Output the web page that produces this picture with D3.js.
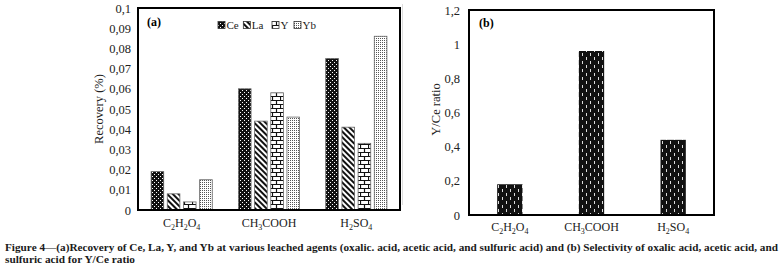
<!DOCTYPE html>
<html>
<head>
<meta charset="utf-8">
<script src="https://cdn.jsdelivr.net/npm/d3@7"></script>
<style>
  body { margin: 0; background: #fff; }
  svg text { font-family: "Liberation Serif", "Times New Roman", serif; }
</style>
</head>
<body>
<svg id="chart" width="783" height="271"></svg>
<script>
// data
const agents = ["C2H2O4", "CH3COOH", "H2SO4"];
const elements = ["Ce", "La", "Y", "Yb"];
const ceValues = [0.019, 0.060, 0.075];
const laValues = [0.008, 0.044, 0.041];
const yValues = [0.004, 0.058, 0.033];
const ybValues = [0.015, 0.046, 0.086];
const ratioValues = [0.18, 0.96, 0.44];
const ticksA = [0, 0.01, 0.02, 0.03, 0.04, 0.05, 0.06, 0.07, 0.08, 0.09, 0.1];
const ticksB = [0, 0.2, 0.4, 0.6, 0.8, 1, 1.2];
// chemical formulas split into [text, isSubscript]
const agentParts = {
  "C2H2O4": [["C", 0], ["2", 1], ["H", 0], ["2", 1], ["O", 0], ["4", 1]],
  "CH3COOH": [["CH", 0], ["3", 1], ["COOH", 0]],
  "H2SO4": [["H", 0], ["2", 1], ["SO", 0], ["4", 1]]
};

const seriesA = elements.map((el, i) => ({
  name: el,
  values: [ceValues, laValues, yValues, ybValues][i]
}));

const svg = d3.select("#chart");
const comma = v => String(v).replace(".", ",");

//// patterns
const defs = svg.append("defs");

// Ce: black with white dots
let p = defs.append("pattern").attr("id", "pCe").attr("patternUnits", "userSpaceOnUse")
  .attr("width", 4).attr("height", 4);
p.append("rect").attr("width", 4).attr("height", 4).attr("fill", "#111");
p.append("rect").attr("x", 0).attr("y", 0).attr("width", 1).attr("height", 1).attr("fill", "#fff");
p.append("rect").attr("x", 2).attr("y", 2).attr("width", 1).attr("height", 1).attr("fill", "#fff");

// La: wide diagonal stripes
p = defs.append("pattern").attr("id", "pLa").attr("patternUnits", "userSpaceOnUse")
  .attr("width", 4).attr("height", 4).attr("patternTransform", "rotate(-45)");
p.append("rect").attr("width", 4).attr("height", 4).attr("fill", "#fff");
p.append("rect").attr("width", 2).attr("height", 4).attr("fill", "#111");

// Y: bricks
p = defs.append("pattern").attr("id", "pY").attr("patternUnits", "userSpaceOnUse")
  .attr("width", 8).attr("height", 8);
p.append("rect").attr("width", 8).attr("height", 8).attr("fill", "#fff");
p.append("path").attr("d", "M0,0.5H8M0,4.5H8M0.5,0V4.5M4.5,4.5V8")
  .attr("stroke", "#111").attr("stroke-width", 1.2).attr("fill", "none");

// Yb: light dotted
p = defs.append("pattern").attr("id", "pYb").attr("patternUnits", "userSpaceOnUse")
  .attr("width", 2).attr("height", 2);
p.append("rect").attr("width", 2).attr("height", 2).attr("fill", "#fff");
p.append("rect").attr("width", 1).attr("height", 1).attr("fill", "#555");

// ratio: black with white dashes
p = defs.append("pattern").attr("id", "pRatio").attr("patternUnits", "userSpaceOnUse")
  .attr("width", 8).attr("height", 8);
p.append("rect").attr("width", 8).attr("height", 8).attr("fill", "#111");
p.append("rect").attr("x", 2).attr("y", 1).attr("width", 1).attr("height", 3).attr("fill", "#ddd");
p.append("rect").attr("x", 6).attr("y", 5).attr("width", 1).attr("height", 3).attr("fill", "#ddd");

const fills = { Ce: "url(#pCe)", La: "url(#pLa)", Y: "url(#pY)", Yb: "url(#pYb)" };

const formula = (sel, key) => {
  agentParts[key].forEach(([t, sub], i, arr) => {
    const prev = i > 0 ? arr[i - 1][1] : 0;
    sel.append("tspan")
      .attr("font-size", sub ? 8 : 12)
      .attr("dy", sub && !prev ? 3 : (!sub && prev ? -3 : 0))
      .text(t);
  });
};

//// panel (a)
const ax = { left: 138, right: 400, top: 8, bottom: 210 };
const xA = d3.scaleBand().domain(agents).range([ax.left, ax.right])
  .paddingInner(0.3).paddingOuter(0.15);
const xSub = d3.scaleBand().domain(elements).range([0, xA.bandwidth()]).paddingInner(0.22);
const yA = d3.scaleLinear().domain([0, 0.1]).range([ax.bottom, ax.top]);

const gA = svg.append("g");
gA.selectAll("g.series").data(seriesA).enter().append("g").attr("class", "series")
  .selectAll("rect").data(s => s.values.map((v, i) => ({ name: s.name, agent: agents[i], v })))
  .enter().append("rect")
  .attr("x", d => xA(d.agent) + xSub(d.name))
  .attr("width", xSub.bandwidth())
  .attr("y", d => yA(d.v))
  .attr("height", d => yA(0) - yA(d.v))
  .attr("fill", d => fills[d.name])
  .attr("stroke", "#666").attr("stroke-width", 0.8);

gA.append("rect").attr("x", ax.left).attr("y", ax.top)
  .attr("width", ax.right - ax.left).attr("height", ax.bottom - ax.top)
  .attr("fill", "none").attr("stroke", "#000").attr("stroke-width", 2);

const yAxisA = gA.append("g").attr("transform", `translate(${ax.left},0)`)
  .call(d3.axisLeft(yA).tickValues(ticksA).tickSize(0).tickPadding(7).tickFormat(comma));
yAxisA.select(".domain").remove();
yAxisA.selectAll("text").attr("font-size", 12.5).attr("font-family", "Liberation Serif").attr("fill", "#222");

gA.selectAll("text.xlab").data(agents).enter().append("text").attr("class", "xlab")
  .attr("x", d => xA(d) + xA.bandwidth() / 2).attr("y", 227)
  .attr("text-anchor", "middle").attr("fill", "#222")
  .each(function (d) { formula(d3.select(this), d); });

gA.append("text").attr("transform", `translate(103,${(ax.top + ax.bottom) / 2}) rotate(-90)`)
  .attr("text-anchor", "middle").attr("font-size", 12.5).attr("fill", "#222").text("Recovery (%)");

gA.append("text").attr("x", 147).attr("y", 26).attr("font-size", 12)
  .attr("font-weight", "bold").text("(a)");

// legend
const legendX = d3.scalePoint().domain(elements).range([218, 294]);
const leg = gA.selectAll("g.leg").data(elements).enter().append("g").attr("class", "leg")
  .attr("transform", d => `translate(${d === "Y" ? 272 : legendX(d)},25)`);
leg.append("rect").attr("x", 0).attr("y", -3.5).attr("width", 7).attr("height", 7)
  .attr("fill", d => fills[d]).attr("stroke", "#333").attr("stroke-width", 0.8);
leg.append("text").attr("x", 8.5).attr("y", 4).attr("font-size", 11).attr("fill", "#222").text(d => d);

// faint separator
svg.append("line").attr("x1", 402.5).attr("x2", 402.5).attr("y1", 4).attr("y2", 205)
  .attr("stroke", "#ddd").attr("stroke-width", 1);

//// panel (b)
const bx = { left: 469, right: 714, top: 10, bottom: 215 };
const xB = d3.scaleBand().domain(agents).range([bx.left, bx.right])
  .paddingInner(0.69).paddingOuter(0.345);
const yB = d3.scaleLinear().domain([0, 1.2]).range([bx.bottom, bx.top]);

const gB = svg.append("g");
gB.selectAll("rect.bar").data(ratioValues).enter().append("rect").attr("class", "bar")
  .attr("x", (d, i) => xB(agents[i])).attr("width", xB.bandwidth())
  .attr("y", d => yB(d)).attr("height", d => yB(0) - yB(d))
  .attr("fill", "url(#pRatio)");

gB.append("rect").attr("x", bx.left).attr("y", bx.top)
  .attr("width", bx.right - bx.left).attr("height", bx.bottom - bx.top)
  .attr("fill", "none").attr("stroke", "#000").attr("stroke-width", 2);

const yAxisB = gB.append("g").attr("transform", `translate(${bx.left},0)`)
  .call(d3.axisLeft(yB).tickValues(ticksB).tickSize(0).tickPadding(9).tickFormat(comma));
yAxisB.select(".domain").remove();
yAxisB.selectAll("text").attr("font-size", 12.5).attr("font-family", "Liberation Serif").attr("fill", "#222");

gB.selectAll("text.xlab").data(agents).enter().append("text").attr("class", "xlab")
  .attr("x", d => xB(d) + xB.bandwidth() / 2).attr("y", 231)
  .attr("text-anchor", "middle").attr("fill", "#222")
  .each(function (d) { formula(d3.select(this), d); });

gB.append("text").attr("transform", `translate(440,${(bx.top + bx.bottom) / 2 - 3}) rotate(-90)`)
  .attr("text-anchor", "middle").attr("font-size", 12.5).attr("fill", "#222").text("Y/Ce ratio");

gB.append("text").attr("x", 479).attr("y", 27).attr("font-size", 12)
  .attr("font-weight", "bold").text("(b)");

//// caption
const cap = svg.append("g").attr("fill", "#1a1a1a").attr("font-weight", "bold").attr("font-size", 11);
cap.append("text").attr("x", 5).attr("y", 251)
  .attr("textLength", 773).attr("lengthAdjust", "spacingAndGlyphs")
  .text("Figure 4\u2014(a)Recovery of Ce, La, Y, and Yb at various leached agents (oxalic. acid, acetic acid, and sulfuric acid) and (b) Selectivity of oxalic acid, acetic acid, and");
cap.append("text").attr("x", 5).attr("y", 263)
  .attr("textLength", 130).attr("lengthAdjust", "spacingAndGlyphs")
  .text("sulfuric acid for Y/Ce ratio");
</script>
</body>
</html>
